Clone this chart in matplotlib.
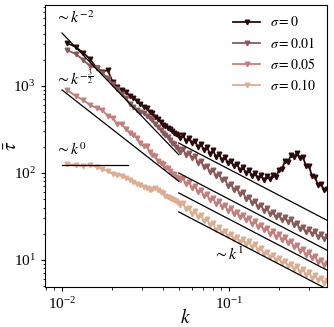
import matplotlib
matplotlib.use("Agg")
import matplotlib.pyplot as plt
import numpy as np

plt.rcParams["font.family"] = ["Liberation Serif", "DejaVu Serif"]
plt.rcParams["mathtext.fontset"] = "stix"

# wavenumbers (shared by all curves)
K_LOW = [0.0107, 0.0121, 0.0134, 0.0147, 0.0161, 0.0174, 0.0188, 0.0201, 0.0214, 0.0228,
         0.0241, 0.0255, 0.0268, 0.0281, 0.0295, 0.0308, 0.0322, 0.0335, 0.0348, 0.0362,
         0.0375, 0.0389, 0.0402, 0.0415, 0.0429, 0.0442, 0.0456, 0.0469, 0.0482, 0.0496]
K_HIGH = [0.0509, 0.0530, 0.0553, 0.0576, 0.0600, 0.0626, 0.0652, 0.0680, 0.0708, 0.0738,
          0.0769, 0.0802, 0.0836, 0.0871, 0.0908, 0.0946, 0.0986, 0.1028, 0.1071, 0.1116,
          0.1163, 0.1213, 0.1264, 0.1317, 0.1373, 0.1431, 0.1491, 0.1554, 0.1620, 0.1688,
          0.1759, 0.1834, 0.1911, 0.1992, 0.2076, 0.2164, 0.2255, 0.2350, 0.2449, 0.2553,
          0.2661, 0.2773, 0.2890, 0.3013, 0.3140, 0.3273, 0.3411, 0.3555, 0.3706, 0.3862]

tau_s0 = [3121, 2807, 2395, 2043, 1610, 1449, 1527, 1112, 974, 900,
          853, 767, 728, 672, 621, 574, 559, 503, 489, 440,
          418, 386, 356, 347, 329, 320, 304, 288, 281, 273,
          253, 273, 233, 253, 221, 233, 199, 215, 184, 199,
          165, 184, 153, 165, 141, 153, 130, 137, 120, 127,
          108, 117, 100, 108, 92.4, 100, 87.6, 94.8, 83.1, 92.4,
          85.3, 94.8, 90.0, 108, 111, 137, 134, 161, 153, 170,
          149, 153, 120, 120, 92.4, 90.0, 72.8, 74.7, 63.8, 65.5]
tau_s001 = [2593, 2332, 1990, 1698, 1610, 1411, 1236, 1054, 924, 809,
            728, 621, 574, 530, 503, 489, 452, 429, 407, 366,
            338, 312, 288, 273, 259, 240, 221, 215, 199, 189,
            174, 189, 161, 170, 149, 157, 130, 137, 117, 120,
            103, 108, 92.4, 97.4, 83.1, 85.3, 70.9, 74.7, 63.8, 67.2,
            57.4, 60.5, 50.3, 53.0, 45.2, 47.7, 40.7, 42.9, 36.6, 39.6,
            33.8, 35.6, 31.2, 32.9, 28.8, 31.2, 27.3, 29.6, 25.3, 26.6,
            22.7, 24.0, 21.0, 22.7, 19.9, 21.5, 18.4, 19.9, 17.4, 18.9]
tau_s005 = [900, 767, 690, 605, 559, 530, 452, 429, 366, 366,
            320, 288, 273, 253, 221, 204, 204, 174, 161, 157,
            137, 130, 127, 114, 114, 105, 97.4, 97.4, 90.0, 87.6,
            83.1, 87.6, 74.7, 78.8, 67.2, 70.9, 60.5, 63.8, 54.4, 57.4,
            48.9, 51.6, 44.0, 47.7, 40.7, 42.9, 36.6, 39.6, 33.8, 35.6,
            31.2, 32.9, 28.8, 30.4, 25.9, 28.1, 24.0, 25.3, 22.1, 23.3,
            19.9, 21.5, 18.4, 19.9, 17.0, 18.4, 15.7, 16.5, 14.1, 14.9,
            12.7, 13.4, 11.4, 12.4, 10.5, 11.1, 9.48, 10.0, 8.76, 9.24]
tau_s010 = [127, 124, 120, 124, 117, 111, 105, 97.4, 94.8, 92.4,
            87.6, 83.1, 78.8, 74.7, 72.8, 69.0, 67.2, 63.8, 65.5, 67.2,
            63.8, 60.5, 58.9, 54.4, 53.0, 51.6, 50.3, 48.9, 47.7, 45.2,
            42.9, 45.2, 38.6, 39.6, 33.8, 36.6, 31.2, 32.9, 28.1, 29.6,
            25.3, 26.6, 22.1, 24.0, 20.4, 21.5, 18.9, 19.9, 17.4, 18.4,
            16.1, 17.4, 15.3, 16.5, 14.1, 15.3, 13.0, 13.7, 11.7, 12.4,
            10.8, 11.4, 10.0, 10.5, 9.24, 9.74, 8.53, 9.00, 7.88, 8.53,
            7.28, 7.88, 6.72, 7.28, 6.21, 6.72, 5.89, 6.21, 5.44, 5.89]

labels = [r"$\sigma=0$", r"$\sigma=0.01$", r"$\sigma=0.05$", r"$\sigma=0.10$"]
colors = ["#2b0b0b", "#8c5858", "#c47e7c", "#dcad90"]

# power-law guide lines: start k, end k, value at start, exponent
guide_k0 = [0.01, 0.01, 0.01, 0.05, 0.05, 0.05, 0.05]
guide_k1 = [0.05, 0.05, 0.025, 0.40, 0.40, 0.40, 0.40]
guide_amp = [4060, 900, 124, 221, 100, 59, 35.7]
guide_exp = [-2, -1.5, 0, -1, -1, -1, -1]

k = np.array(K_LOW + K_HIGH)

fig = plt.figure(figsize=(3.34, 3.27), dpi=100)
ax = fig.add_axes([0.1347, 0.1223, 0.8443, 0.8624])

for tau, lab, col in zip([tau_s0, tau_s001, tau_s005, tau_s010], labels, colors):
    ax.plot(k, tau, color=col, marker="v", markersize=3.3, linewidth=1.3, label=lab)

for k0, k1, a, p in zip(guide_k0, guide_k1, guide_amp, guide_exp):
    kk = np.array([k0, k1])
    ax.plot(kk, a * (kk / k0) ** p, color="black", linewidth=0.9, zorder=5)

ax.set_xscale("log")
ax.set_yscale("log")
ax.set_xlim(0.00791, 0.3862)
ax.set_ylim(4.89, 8530)

ax.text(0.035, 0.935, r"$\sim k^{-2}$", transform=ax.transAxes, fontsize=11.5)
ax.text(0.035, 0.718, r"$\sim k^{-\frac{3}{2}}$", transform=ax.transAxes, fontsize=11.5)
ax.text(0.035, 0.468, r"$\sim k^{0}$", transform=ax.transAxes, fontsize=11.5)
ax.text(0.595, 0.096, r"$\sim k^{1}$", transform=ax.transAxes, fontsize=11.5)

ax.set_xlabel(r"$k$", fontsize=14)
ax.set_ylabel(r"$\bar{\tau}$", fontsize=14)
ax.xaxis.set_label_coords(0.5, -0.075)
ax.yaxis.set_label_coords(-0.085, 0.5)
ax.tick_params(labelsize=11, length=3.2)
ax.tick_params(which="minor", length=1.8)
ax.legend(loc="upper right", frameon=False, fontsize=10, handlelength=2.0,
          handletextpad=0.7, labelspacing=0.45, borderaxespad=0.35)

fig.savefig("out.png", dpi=100)
